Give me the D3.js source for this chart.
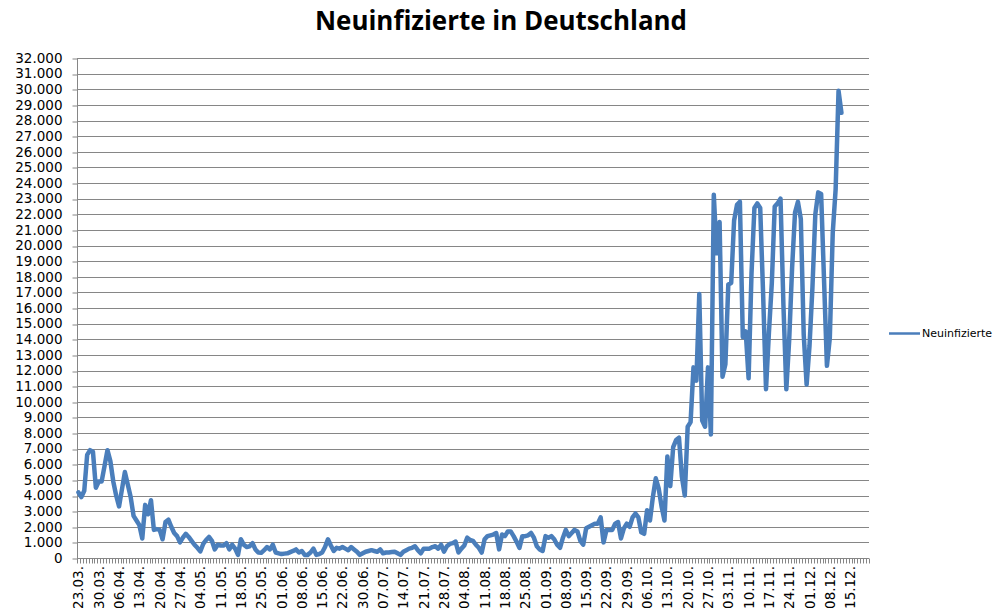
<!DOCTYPE html>
<html><head><meta charset="utf-8">
<script src="https://cdn.jsdelivr.net/npm/d3@7"></script>
<style>body{margin:0;background:#fff;} svg{display:block;}</style>
</head><body>
<svg id="c" width="1002" height="616"></svg>
<script>
const chartTitle = "Neuinfizierte in Deutschland";
const seriesName = "Neuinfizierte";
// category axis: daily dates (one day, 28.06., is missing in the source sheet)
const firstDate = "2020-03-23";
const lastDate = "2020-12-21";
const missingDates = ["28.06."];
const tickLabels = ["23.03.","30.03.","06.04.","13.04.","20.04.","27.04.","04.05.","11.05.","18.05.","25.05.",
  "01.06.","08.06.","15.06.","22.06.","30.06.","07.07.","14.07.","21.07.","28.07.","04.08.",
  "11.08.","18.08.","25.08.","01.09.","08.09.","15.09.","22.09.","29.09.","06.10.","13.10.",
  "20.10.","27.10.","03.11.","10.11.","17.11.","24.11.","01.12.","08.12.","15.12."];
const yTicks = [0,1000,2000,3000,4000,5000,6000,7000,8000,9000,10000,11000,12000,13000,14000,15000,16000,
  17000,18000,19000,20000,21000,22000,23000,24000,25000,26000,27000,28000,29000,30000,31000,32000];
// daily new infections, from 23.03. to 12.12.
const values = [
  4200,3900,4300,6600,6900,6800,4500,4900,4900,5900,
  6900,6200,4900,4000,3300,4400,5500,4700,3900,2700,
  2400,2100,1250,3400,2800,3700,1800,1850,1800,1200,
  2300,2450,2000,1600,1400,1000,1300,1550,1350,1100,
  850,650,420,900,1150,
  1350,1100,550,850,800,800,950,550,850,600,
  200,1200,850,700,750,950,550,350,330,500,
  700,550,850,350,300,250,280,300,380,450,
  550,350,450,200,200,350,600,200,250,350,
  700,1200,800,450,650,
  600,700,600,500,700,550,400,200,300,400,
  450,500,450,400,550,300,350,350,380,400,
  300,200,400,500,600,650,750,500,300,600,
  600,600,700,750,600,850,400,750,900,950,
  1050,350,600,800,1300,
  1150,1100,850,650,350,1200,1400,1450,1500,1600,
  550,1500,1400,1700,1700,1400,1050,650,1400,1400,
  1450,1600,1300,750,550,450,1400,1300,1400,1200,
  850,650,1300,1800,1400,1600,1800,1700,1100,850,
  1900,2000,2100,2200,2200,
  2600,1000,1800,1800,1800,2200,2300,1250,1900,2200,
  2000,2600,2850,2600,1650,1550,3050,2400,3900,5100,
  4450,3300,2400,6500,4600,7100,7550,7700,5200,4000,
  8400,8700,12200,11350,16900,8800,8400,12200,7900,23250,
  19500,21500,11600,12400,17500,17600,21600,22600,22800,14150,
  14500,11500,18200,22400,22700,22400,16900,10800,14400,17600,
  22500,22700,23000,16200,10800,14000,18600,22100,22800,21700,
  14300,11100,13600,17300,22000,23400,23300,17800,12300,14100,
  20800,23600,29900,28500
];

const parse = d3.timeParse("%Y-%m-%d");
const fmt = d3.timeFormat("%d.%m.");
const categories = d3.timeDay.range(parse(firstDate), d3.timeDay.offset(parse(lastDate), 1))
  .map(fmt).filter(s => !missingDates.includes(s));

const svg = d3.select("#c");
const pL = 77, pR = 869, pT = 58, pB = 558;
const axisColor = "#868686";
const lineColor = "#4A7EBB";
const labelFont = "DejaVu Sans";

const x = d3.scaleBand().domain(categories).range([pL, pR]).padding(0);
const bw = x.bandwidth();
const y = d3.scaleLinear().domain([0, 32000]).range([pB, pT]);
const de = d3.formatLocale({decimal: ",", thousands: ".", grouping: [3], currency: ["", " €"]});
const yFmt = de.format(",");
const crisp = v => Math.round(v) + 0.5;

// gridlines
svg.append("g").selectAll("line").data(yTicks.filter(d => d > 0)).join("line")
  .attr("x1", pL).attr("x2", pR)
  .attr("y1", d => crisp(y(d))).attr("y2", d => crisp(y(d)))
  .attr("stroke", axisColor).attr("stroke-width", 1);

// y axis
const yAxis = svg.append("g").attr("transform", `translate(${crisp(pL)},0)`)
  .call(d3.axisLeft(y).tickValues(yTicks).tickFormat(yFmt).tickSize(5).tickPadding(10));
yAxis.selectAll(".tick line").attr("stroke", axisColor).attr("transform", d => `translate(0,${crisp(y(d)) - y(d)})`);
yAxis.select(".domain").attr("stroke", axisColor).attr("d", `M0,${pT}V${pB + 0.5}`);
yAxis.selectAll("text").attr("font-family", labelFont).attr("font-size", "13.5px").attr("fill", "#000");

// x axis
const xa = svg.append("g");
xa.append("line").attr("x1", pL).attr("x2", pR).attr("y1", crisp(pB)).attr("y2", crisp(pB))
  .attr("stroke", axisColor);
const bounds = categories.map(c => x(c)).concat([pR]);
xa.selectAll("line.t").data(bounds).join("line").attr("class", "t")
  .attr("x1", d => crisp(d)).attr("x2", d => crisp(d))
  .attr("y1", crisp(pB)).attr("y2", crisp(pB) + 5)
  .attr("stroke", axisColor);
xa.selectAll("text").data(categories.filter(c => tickLabels.includes(c))).join("text")
  .attr("transform", c => `translate(${x(c) + bw / 2},566) rotate(-90)`)
  .attr("text-anchor", "end").attr("dominant-baseline", "central")
  .attr("font-family", labelFont).attr("font-size", "13.5px").attr("fill", "#000")
  .text(c => c);

// series line
const line = d3.line().x((d, i) => x(categories[i]) + bw / 2).y(d => y(d));
svg.append("path").datum(values).attr("d", line)
  .attr("fill", "none").attr("stroke", lineColor).attr("stroke-width", 4.5)
  .attr("stroke-linejoin", "round").attr("stroke-linecap", "round");

// legend
svg.append("line").attr("x1", 889).attr("x2", 920).attr("y1", 333.5).attr("y2", 333.5)
  .attr("stroke", lineColor).attr("stroke-width", 2.5);
svg.append("text").attr("x", 922).attr("y", 333.5).attr("dominant-baseline", "central")
  .attr("font-family", labelFont).attr("font-size", "11px").attr("fill", "#000").text(seriesName);

// title
svg.append("text").attr("x", 501).attr("y", 30).attr("text-anchor", "middle")
  .attr("font-family", "Open Sans").attr("font-weight", 700).attr("font-size", "26px")
  .attr("textLength", 372).attr("lengthAdjust", "spacingAndGlyphs")
  .attr("fill", "#000").text(chartTitle);
</script>
</body></html>
